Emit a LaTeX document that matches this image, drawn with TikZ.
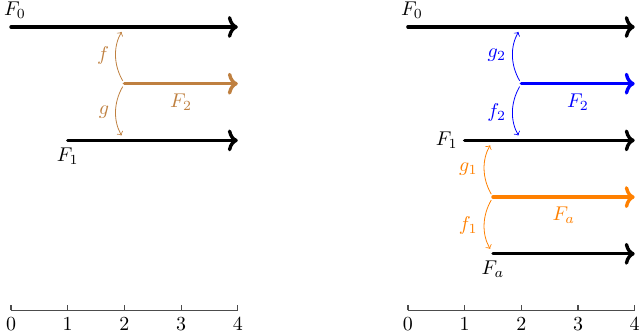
\documentclass[tikz,border=0pt]{standalone}
\usetikzlibrary{arrows,arrows.meta}
\begin{document}
\begin{tikzpicture}[
  flow/.style={-{Computer Modern Rightarrow[length=5pt, width=11pt, line cap=round]}, line width=1.7pt, line cap=round},
  bendarr/.style={->, >=to, thin, shorten <=0.06cm, shorten >=0.1cm},
  axisline/.style={draw=black!70, line width=0.6pt},
  lbl/.style={inner sep=2pt}
]
\useasboundingbox (-0.194,-0.388) rectangle (11.093,5.476);
% ---------------- left panel ----------------
\coordinate (L0s) at (0,5);   \coordinate (L0e) at (4,5);
\coordinate (L2s) at (2,4);   \coordinate (L2e) at (4,4);
\coordinate (L1s) at (1,3);   \coordinate (L1e) at (4,3);
\coordinate (Lup) at (2,5);   \coordinate (Ldn) at (2,3);
\draw[flow] (L0s) -- (L0e);
\node[above, xshift=0.07cm, yshift=0.02cm] (lF0) at (L0s) {$F_0$};
\draw[flow, brown] (L2s) -- (L2e) node[midway, below, brown, yshift=-0.03cm] (lF2) {$F_2$};
\draw[flow] (L1s) -- (L1e);
\node[below] (lF1) at (L1s) {$F_1$};
\draw[bendarr, brown] (L2s) to[bend left=30] node[left, brown] (lf) {$f$} (Lup);
\draw[bendarr, brown] (L2s) to[bend right=30] node[left, brown] (lg) {$g$} (Ldn);
% axis
\coordinate (LA0) at (0,0); \coordinate (LA4) at (4,0);
\draw[axisline] (LA0) -- (LA4);
\foreach \i in {0,...,4} {
  \draw[axisline] (\i,0) -- (\i,0.09);
  \node[below] (lt\i) at (\i,0) {$\i$};
}
% ---------------- right panel ----------------
\coordinate (R0s) at (7,5);   \coordinate (R0e) at (11,5);
\coordinate (R2s) at (9,4);   \coordinate (R2e) at (11,4);
\coordinate (R1s) at (8,3);   \coordinate (R1e) at (11,3);
\coordinate (Ras) at (8.5,2); \coordinate (Rae) at (11,2);
\coordinate (Rbs) at (8.5,1); \coordinate (Rbe) at (11,1);
\coordinate (Rup) at (9,5);   \coordinate (Rdn) at (9,3);
\coordinate (Rup1) at (8.5,3); \coordinate (Rdn1) at (8.5,1);
\draw[flow] (R0s) -- (R0e);
\node[above, xshift=0.07cm, yshift=0.02cm] (rF0) at (R0s) {$F_0$};
\draw[flow, blue] (R2s) -- (R2e) node[midway, below, blue, yshift=-0.03cm] (rF2) {$F_2$};
\draw[flow] (R1s) -- (R1e);
\node[left] (rF1) at (R1s) {$F_1$};
\draw[flow, orange] (Ras) -- (Rae) node[midway, below, orange, yshift=-0.03cm] (rFa) {$F_a$};
\draw[flow] (Rbs) -- (Rbe);
\node[below] (rFb) at (Rbs) {$F_a$};
\draw[bendarr, blue] (R2s) to[bend left=30] node[left, blue] (rg2) {$g_2$} (Rup);
\draw[bendarr, blue] (R2s) to[bend right=30] node[left, blue] (rf2) {$f_2$} (Rdn);
\draw[bendarr, orange] (Ras) to[bend left=30] node[left, orange] (rg1) {$g_1$} (Rup1);
\draw[bendarr, orange] (Ras) to[bend right=30] node[left, orange] (rf1) {$f_1$} (Rdn1);
% axis
\coordinate (RA0) at (7,0); \coordinate (RA4) at (11,0);
\draw[axisline] (RA0) -- (RA4);
\foreach \i in {0,...,4} {
  \draw[axisline] (7+\i,0) -- (7+\i,0.09);
  \node[below] (rt\i) at (7+\i,0) {$\i$};
}
\end{tikzpicture}
\end{document}
